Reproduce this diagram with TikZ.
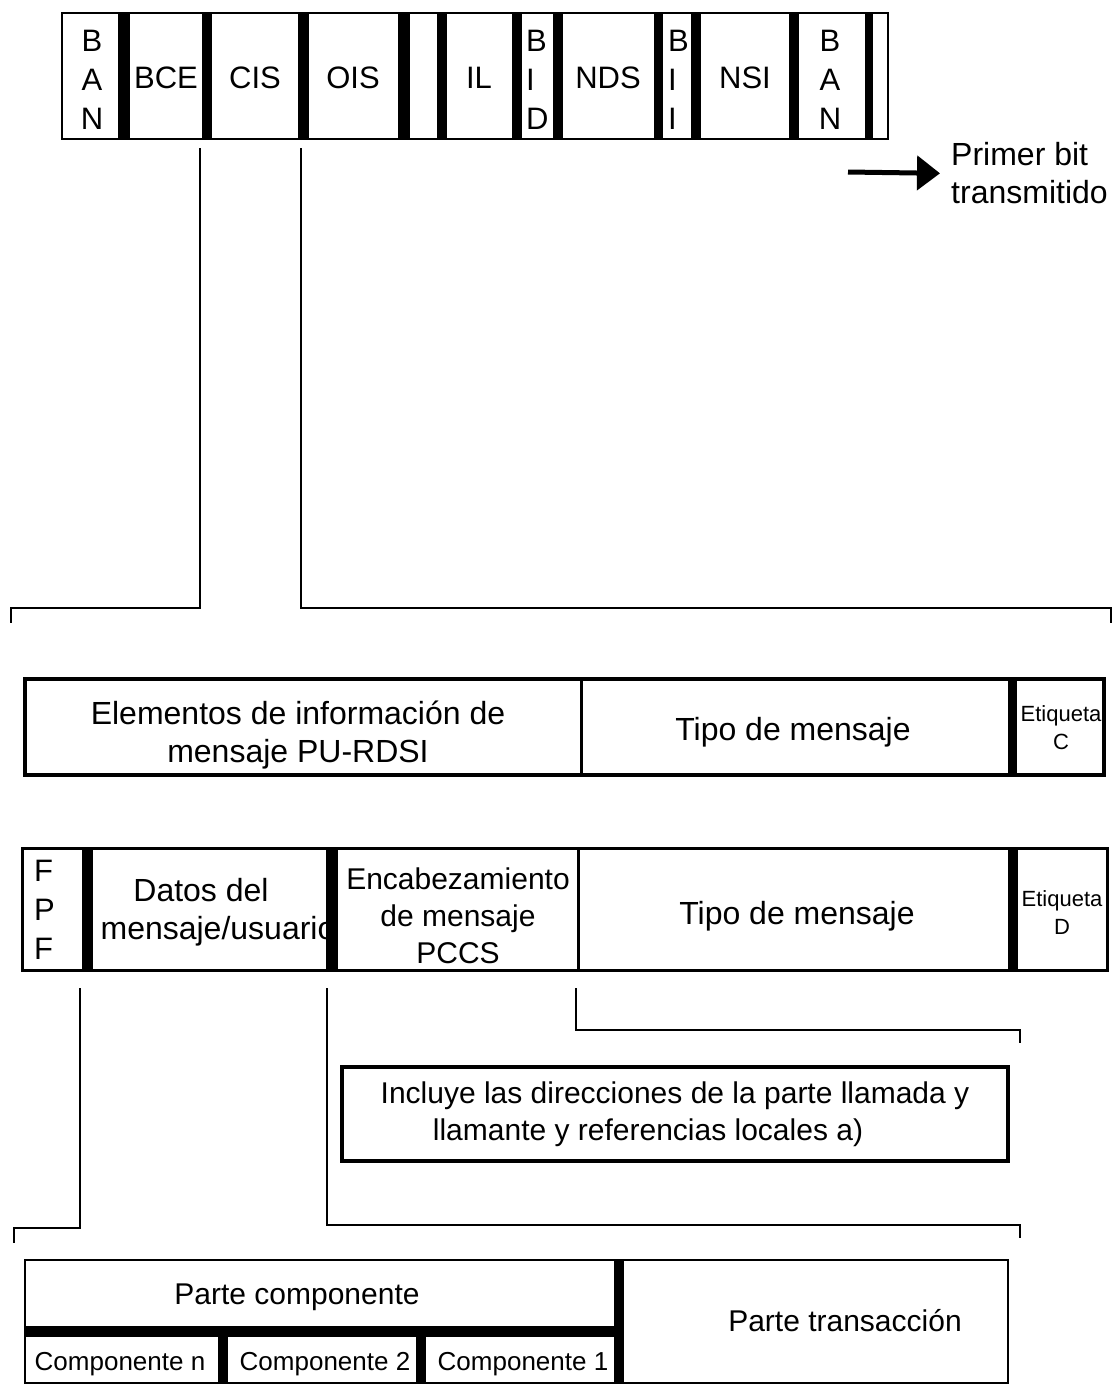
\documentclass[tikz,border=0pt]{standalone}
\usepackage{fontspec}
\setmainfont{Liberation Sans}
\usetikzlibrary{arrows.meta}
\begin{document}
\begin{tikzpicture}[x=1pt,y=-1pt,>={Triangle[length=23pt,width=34pt]},
  fld/.style={inner sep=0pt,font=\fontsize{31}{39}\selectfont},
  stk/.style={inner sep=0pt,align=left,font=\fontsize{31}{39}\selectfont},
  txt/.style={inner sep=0pt,align=center,font=\fontsize{32}{38}\selectfont},
  txs/.style={inner sep=0pt,align=center,font=\fontsize{30}{37}\selectfont},
  cmp/.style={inner sep=0pt,font=\fontsize{26}{30}\selectfont},
  etq/.style={inner sep=0pt,align=center,font=\fontsize{22}{28}\selectfont},
  link/.style={line width=2pt}]
\useasboundingbox (0,0) rectangle (1113,1384);
% trama superior
\draw[line width=2.5pt] (62,13) rectangle (888,139);
\foreach \a/\b in {118/130,202/212,298/309,398/410,437/447,512/522,553/563,654/663,691/701,789/799,865/873}
  \fill (\a,13) rectangle (\b,139);
\node[stk,align=center] (banA) at (92,80) {B\\A\\N};
\node[fld,anchor=base] (bce) at (166,88) {BCE};
\node[fld,anchor=base] (cis) at (255,88) {CIS};
\node[fld,anchor=base] (ois) at (353,88) {OIS};
\node[fld,anchor=base] (il) at (479,88) {IL};
\node[stk,anchor=west] (bid) at (526,80) {B\\I\\D};
\node[fld,anchor=base] (nds) at (608,88) {NDS};
\node[stk,anchor=west] (bii) at (668,80) {B\\I\\I};
\node[fld,anchor=base] (nsi) at (745,88) {NSI};
\node[stk,align=center] (banB) at (830,80) {B\\A\\N};
\node[txt,align=left,anchor=west] (primer) at (951,173.5) {Primer bit\\transmitido};
\path (848,172) coordinate (arrA);
\draw[->,line width=5pt,shorten >=11pt] (arrA) -- (primer.west);
\path (200,148) coordinate (bceA) (11,608) coordinate (bceB) (301,148) coordinate (cisA) (1111,608) coordinate (cisB);
\draw[link] (bceA) |- (bceB) -- ++(0,15);
\draw[link] (cisA) |- (cisB) -- ++(0,15);
% mensaje PU-RDSI
\draw[line width=4pt] (25,679) rectangle (1104,775);
\draw[line width=3pt] (581,679) -- (581,775);
\fill (1008,679) rectangle (1017,775);
\node[txt] (elem) at (298,735.5) {Elementos de información de\\mensaje PU-RDSI};
\node[txt,anchor=base] (tipoC) at (793,740) {Tipo de mensaje};
\node[etq] (etqC) at (1061,728) {Etiqueta\\C};
% mensaje PCCS
\draw[line width=3pt] (22,848) rectangle (1107,970);
\node[stk,anchor=west] (fpf) at (34,910) {F\\P\\F};
\node[txt] (datos) at (218,912) {Datos del\hspace*{34pt}\\mensaje/usuario};
\node[txs] (encab) at (458,916) {Encabezamiento\\de mensaje\\PCCS};
\draw[line width=3pt] (578,848) -- (578,970);
\node[txt,anchor=base] (tipoD) at (797,924) {Tipo de mensaje};
\node[etq] (etqD) at (1062,913) {Etiqueta\\D};
\foreach \a/\b in {82/93,326/338,1008/1018}
  \fill (\a,848) rectangle (\b,970);
\path (80,988) coordinate (fpfA) (14,1228) coordinate (fpfB) (327,988) coordinate (datA) (1020,1225) coordinate (datB) (576,988) coordinate (encA) (1020,1030) coordinate (encB);
\draw[link] (fpfA) |- (fpfB) -- ++(0,15);
\draw[link] (datA) |- (datB) -- ++(0,13);
\draw[link] (encA) |- (encB) -- ++(0,13);
\node[txs,draw,line width=4pt,minimum width=666pt,minimum height=94pt] (incl) at (675,1114) {Incluye las direcciones de la parte llamada y\\llamante y referencias locales a)\hspace*{54pt}};
% parte componente / transaccion
\draw[line width=2.5pt] (25,1260) rectangle (1008,1383);
\fill (25,1326) rectangle (620,1337);
\foreach \a/\b/\c in {614/624/1260,218/228/1337,416/426/1337}
  \fill (\a,\c) rectangle (\b,1384);
\node[txs,anchor=base] (pcomp) at (297,1304) {Parte componente};
\node[txs,anchor=base] (ptrans) at (845,1331) {Parte transacción};
\node[cmp,anchor=base] (compn) at (120,1370) {Componente n};
\node[cmp,anchor=base] (comp2) at (325,1370) {Componente 2};
\node[cmp,anchor=base] (comp1) at (523,1370) {Componente 1};
\end{tikzpicture}
\end{document}
